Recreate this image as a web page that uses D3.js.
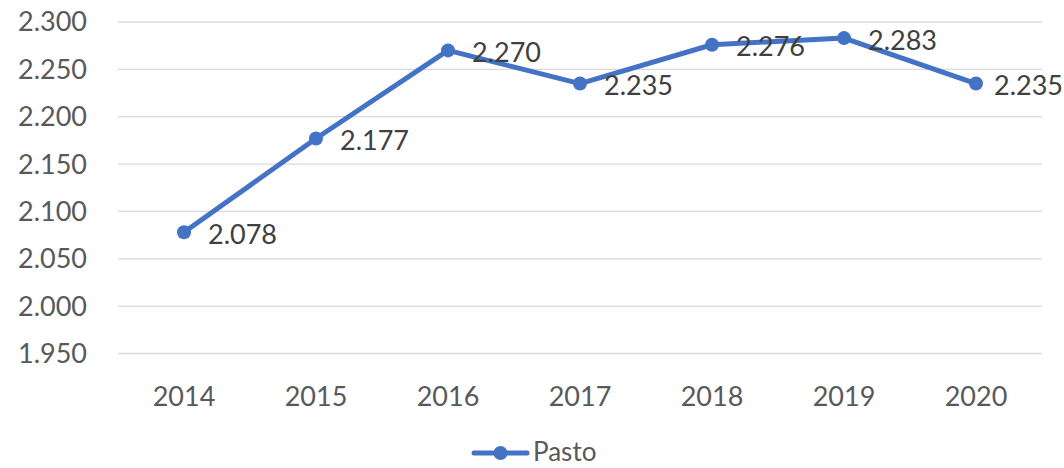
<!DOCTYPE html>
<html><head><meta charset="utf-8">
<script src="https://cdn.jsdelivr.net/npm/d3@7"></script>
<style>body{margin:0;background:#fff}svg{display:block}</style>
</head><body><svg id="c" width="1064" height="468"></svg>
<script>
const years = ["2014","2015","2016","2017","2018","2019","2020"];
const pasto = [2.078, 2.177, 2.270, 2.235, 2.276, 2.283, 2.235];
const yTicks = [1.95, 2.0, 2.05, 2.1, 2.15, 2.2, 2.25, 2.3];
const seriesName = "Pasto";

const svg = d3.select("#c");
const font = "Lato, 'Open Sans', sans-serif";
const color = "#4472C4";
const x = d3.scaleBand().domain(years).range([118, 1042]);
const y = d3.scaleLinear().domain([1.95, 2.3]).range([353.5, 22]);

svg.append("g").selectAll("line").data(yTicks).join("line")
  .attr("x1", 118).attr("x2", 1042)
  .attr("y1", d => y(d)).attr("y2", d => y(d))
  .attr("stroke", "#d9d9d9").attr("stroke-width", 1.3);

const fmt = d3.format(".3f");
svg.append("g").selectAll("text").data(yTicks).join("text")
  .attr("x", 87).attr("y", d => y(d)).attr("dy", "0.35em")
  .attr("text-anchor", "end").attr("fill", "#595959")
  .style("font-family", font).style("font-size", "27px")
  .text(d => fmt(d));

svg.append("g").selectAll("text").data(years).join("text")
  .attr("x", d => x(d) + x.bandwidth()/2).attr("y", 397).attr("dy", "0.35em")
  .attr("text-anchor", "middle").attr("fill", "#595959")
  .style("font-family", font).style("font-size", "27px")
  .text(d => d);

const cx = (d,i) => x(years[i]) + x.bandwidth()/2;
const line = d3.line().x((d,i) => cx(d,i)).y(d => y(d));
svg.append("path").datum(pasto).attr("d", line)
  .attr("fill", "none").attr("stroke", color).attr("stroke-width", 5)
  .attr("stroke-linejoin", "round").attr("stroke-linecap", "round");
svg.append("g").selectAll("circle").data(pasto).join("circle")
  .attr("cx", cx).attr("cy", d => y(d)).attr("r", 7).attr("fill", color);

svg.append("g").selectAll("text").data(pasto).join("text")
  .attr("x", (d,i) => cx(d,i) + 24).attr("y", d => y(d) + 2).attr("dy", "0.35em")
  .attr("fill", "#404040")
  .style("font-family", font).style("font-size", "27px")
  .text(d => fmt(d))
  .each(function() {
    const t = d3.select(this);
    const w = this.getComputedTextLength();
    const x0 = +t.attr("x");
    if (x0 + w > 1063) t.attr("x", 1063 - w);
  });

const lg = svg.append("g");
lg.append("line").attr("x1", 474).attr("x2", 527).attr("y1", 453).attr("y2", 453)
  .attr("stroke", color).attr("stroke-width", 5).attr("stroke-linecap", "round");
lg.append("circle").attr("cx", 500.5).attr("cy", 453).attr("r", 7).attr("fill", color);
lg.append("text").attr("x", 533).attr("y", 452).attr("dy", "0.35em")
  .attr("fill", "#595959").style("font-family", font).style("font-size", "26px")
  .text(seriesName);
</script></body></html>
